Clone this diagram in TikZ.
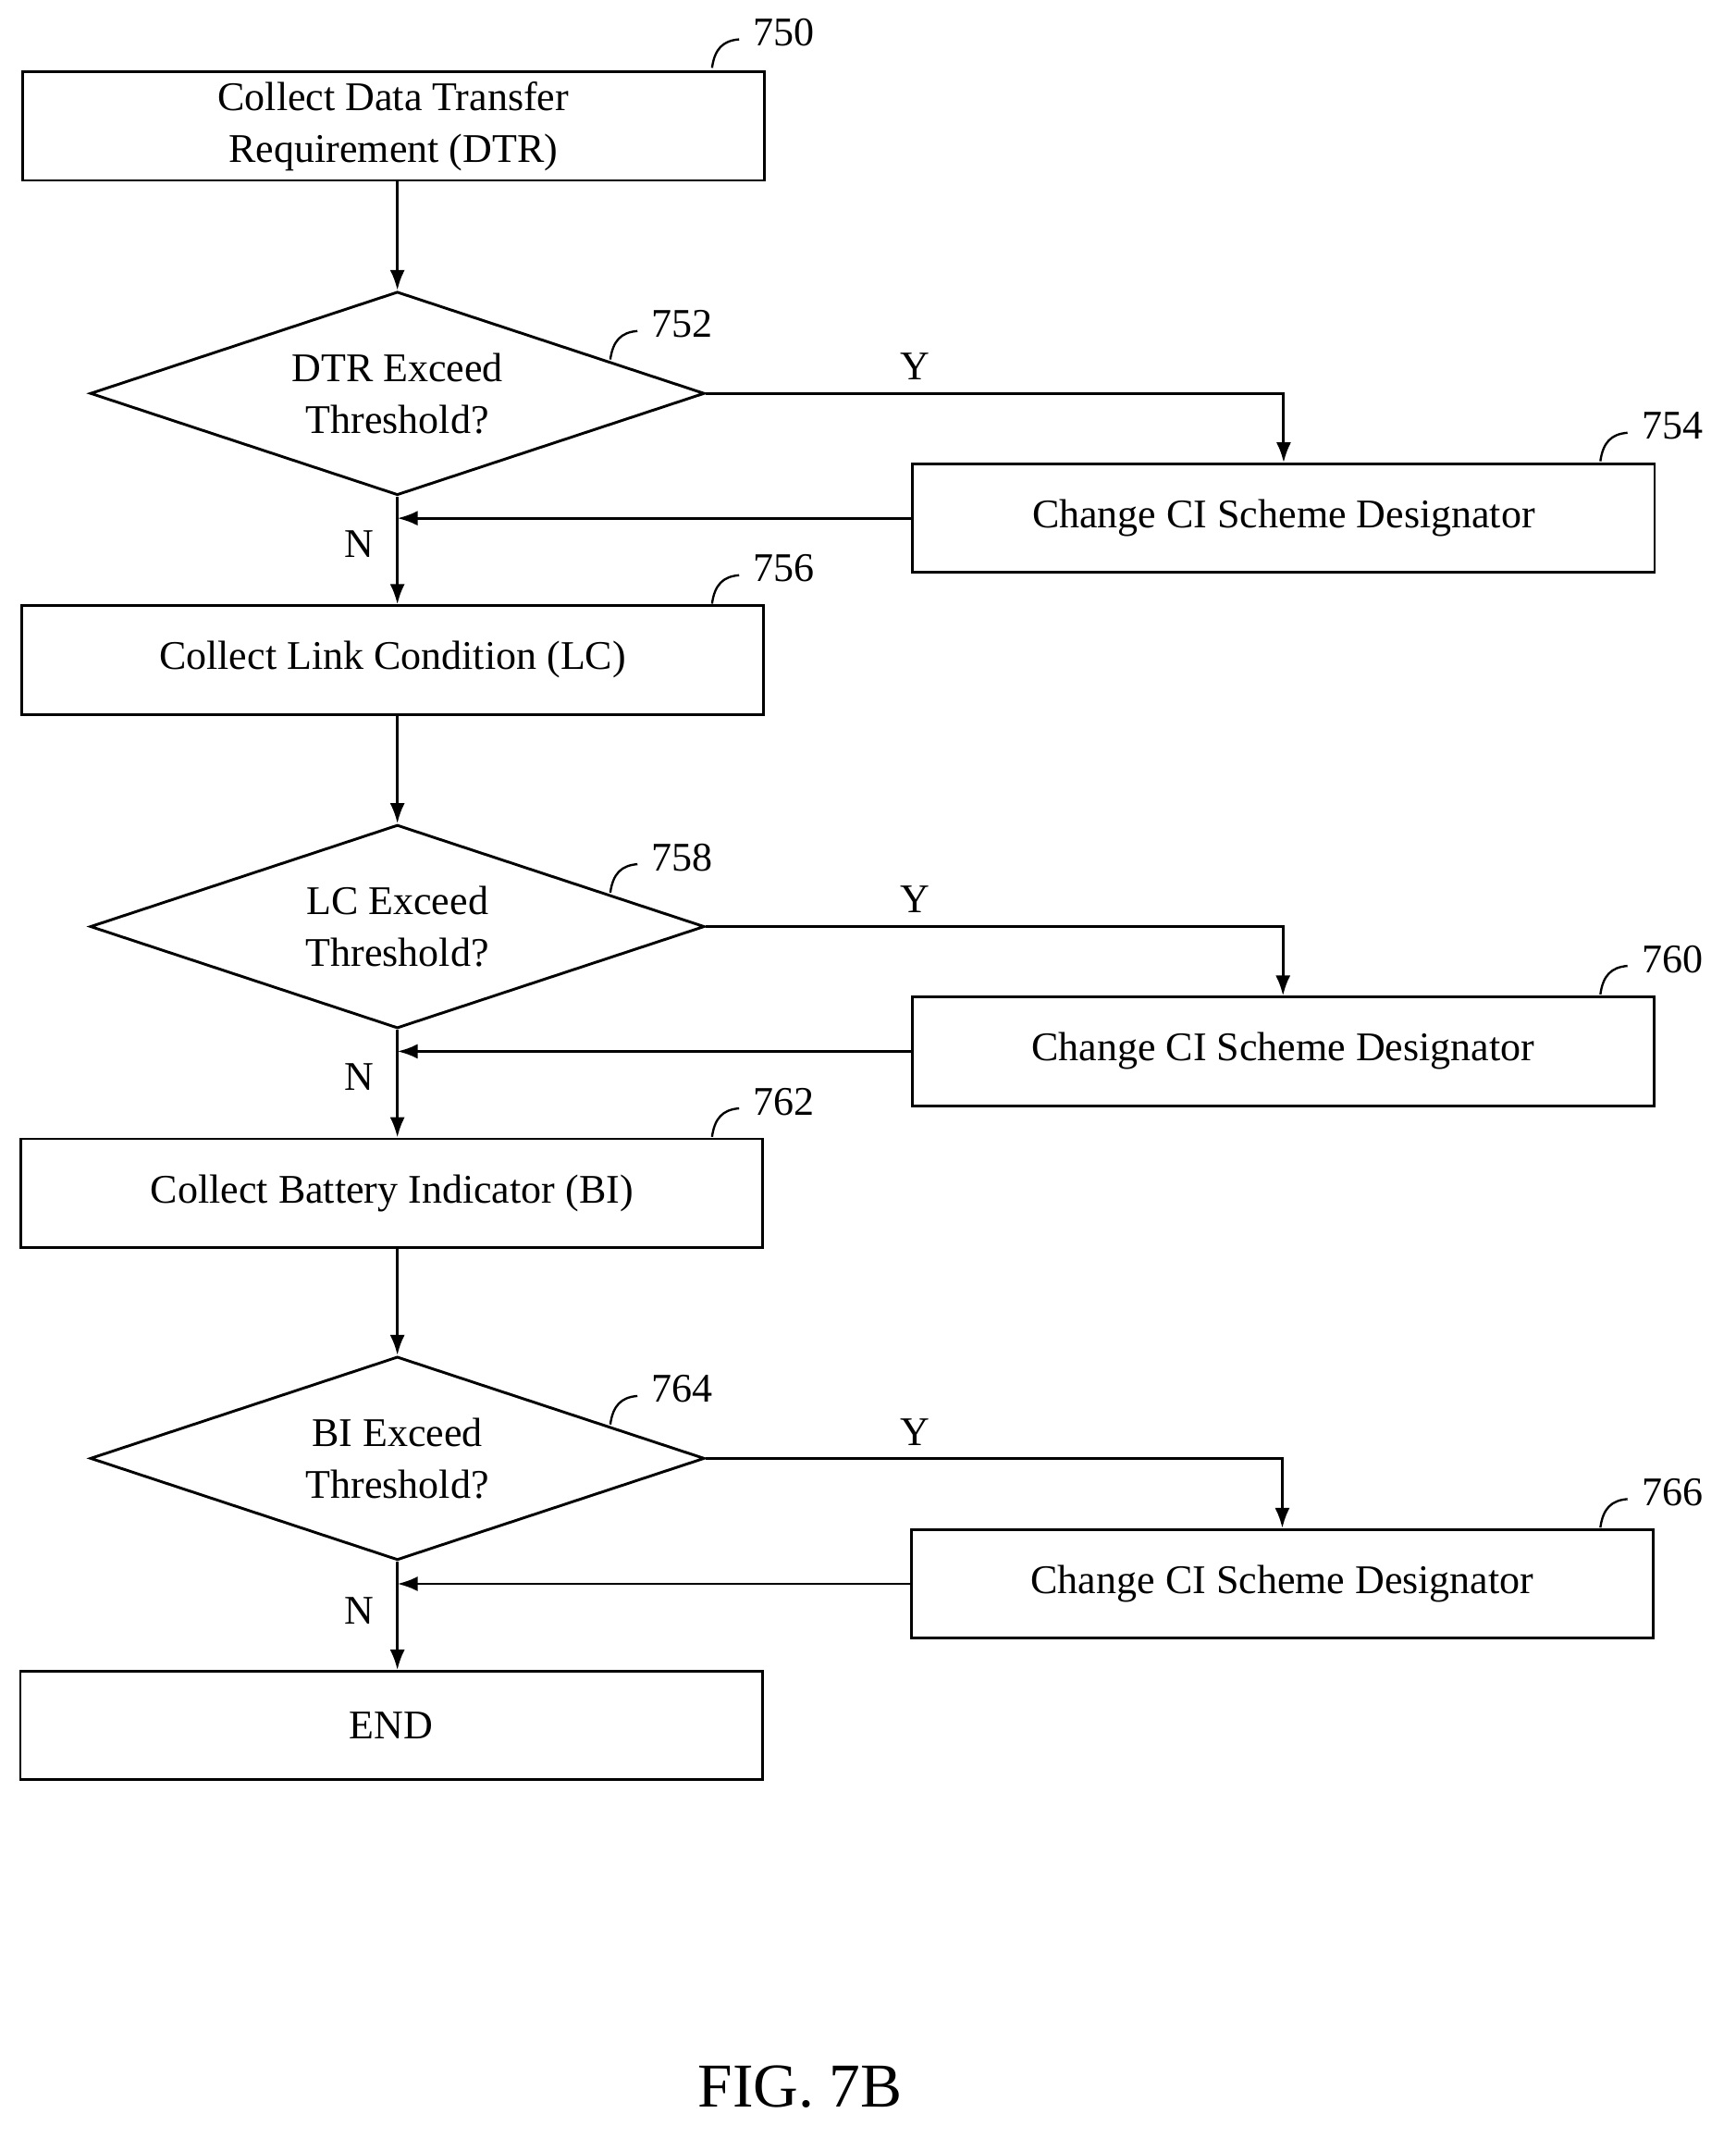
\documentclass[tikz,border=0pt]{standalone}
\usepackage{fontspec}
\setmainfont{Liberation Serif}
\usetikzlibrary{shapes.geometric,arrows.meta}
\begin{document}
\begin{tikzpicture}[x=1pt,y=-1pt,
  box/.style={draw,line width=2pt,minimum width=547pt,minimum height=80pt,align=center,inner sep=0pt},
  dia/.style={draw,line width=2pt,diamond,minimum width=453pt,minimum height=150pt,aspect=3,align=center,inner sep=0pt},
  arr/.style={line width=2pt,-{Latex[length=15pt,width=11pt]}},
  ln/.style={line width=1.6pt},
  every node/.style={font=\fontsize{30}{38}\selectfont}]
\useasboundingbox (0,0) rectangle (1280,1576);
\node[box] (b750) at (290,93) {Collect Data Transfer\\Requirement (DTR)};
\node[dia] (d752) at (293,290) {DTR Exceed\\Threshold?};
\node[box] (b754) at (946.5,382) {Change CI Scheme Designator};
\node[box] (b756) at (289.5,486.5) {Collect Link Condition (LC)};
\node[dia] (d758) at (293,683) {LC Exceed\\Threshold?};
\node[box] (b760) at (946,775) {Change CI Scheme Designator};
\node[box] (b762) at (289,879.5) {Collect Battery Indicator (BI)};
\node[dia] (d764) at (293,1075) {BI Exceed\\Threshold?};
\node[box] (b766) at (945.5,1167.5) {Change CI Scheme Designator};
\node[box] (end) at (288.5,1272) {END};
\node[font=\fontsize{46}{50}\selectfont] (fig) at (590,1538) {FIG. 7B};
% connectors
\draw[arr] (b750.south -| d752.north) -- (d752.north);
\foreach \d/\b/\n/\nb in {d752/b754/b756/x,d758/b760/b762/x,d764/b766/end/x}{
  \draw[arr] (\d.east) -| (\b.north);
  \draw[arr] (\d.south) -- (\n.north -| \d.south);
  \draw[arr] (\b.west) -- (\b.west -| \d.south);
}
\draw[arr] (b756.south -| d758.north) -- (d758.north);
\draw[arr] (b762.south -| d764.north) -- (d764.north);
% Y/N labels
\foreach \y in {0,393,786}{
  \node (y\y) at (675,270+\y) {Y};
  \node (n\y) at (265,401+\y) {N};
}
% reference labels
\foreach \x/\y/\t in {525/50/750,450/265/752,1180/340/754,525/445/756,450/658/758,1180/733/760,525/838/762,450/1050/764,1180/1126/766}{
  \draw[ln] (\x,\y) .. controls (\x+2,\y-14) and (\x+8,\y-20) .. (\x+20,\y-21);
  \node[anchor=west] at (\x+27,\y-26) {\t};
}
\end{tikzpicture}
\end{document}
